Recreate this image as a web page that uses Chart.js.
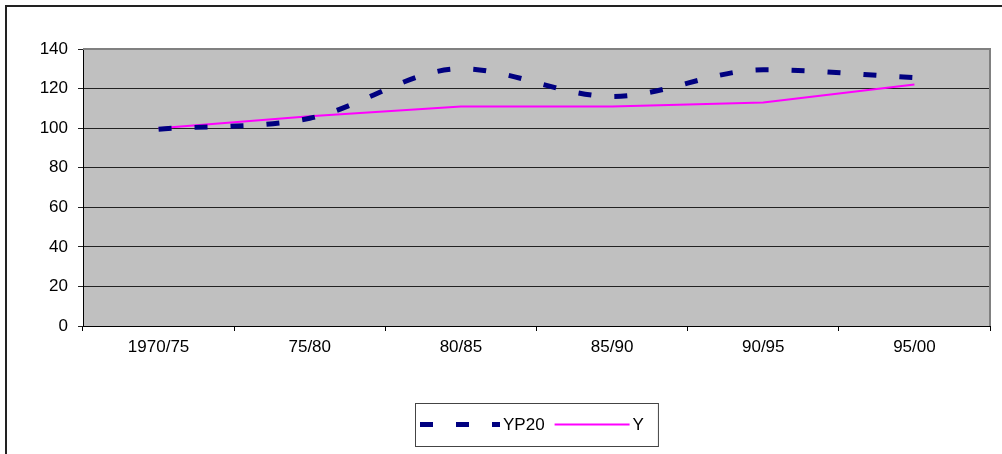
<!DOCTYPE html>
<html>
<head>
<meta charset="utf-8">
<script src="https://cdn.jsdelivr.net/npm/chart.js@4.4.1/dist/chart.umd.min.js"></script>
<style>
  html, body { margin: 0; padding: 0; background: #fff; }
  canvas { display: block; }
</style>
</head>
<body>
<canvas id="grafico" width="1002" height="454"></canvas>
<script>
// valores
const periodos = ["1970/75", "75/80", "80/85", "85/90", "90/95", "95/00"];
const serieYP20 = [99.5, 105, 130, 116, 129.5, 125.5];
const serieY = [100, 106, 111, 111, 113, 122];
const ticksY = [0, 20, 40, 60, 80, 100, 120, 140];

const FONTE = '"Liberation Sans", Arial, sans-serif';
const TAM = 17;

// fundo cinza da área do gráfico + moldura externa
const pluginFundo = {
    id: 'fundo',
    beforeDraw(chart) {
        const { ctx, chartArea: a } = chart;
        ctx.save();
        ctx.fillStyle = '#C0C0C0';
        ctx.fillRect(a.left, a.top, a.right - a.left, a.bottom - a.top);
        ctx.restore();
    },
    afterDraw(chart) {
        const { ctx, chartArea: a } = chart;
        ctx.save();
        // borda cinza em cima e à direita da área
        ctx.strokeStyle = '#808080';
        ctx.lineWidth = 2;
        ctx.beginPath();
        ctx.moveTo(a.left, a.top);
        ctx.lineTo(a.right, a.top);
        ctx.lineTo(a.right, a.bottom);
        ctx.stroke();
        // moldura externa (só esquerda e topo aparecem)
        ctx.strokeStyle = '#222';
        ctx.lineWidth = 2;
        ctx.beginPath();
        ctx.moveTo(6, chart.height);
        ctx.lineTo(6, 6);
        ctx.lineTo(chart.width, 6);
        ctx.stroke();
        ctx.restore();
    }
};

// legenda no estilo do Excel
const pluginLegenda = {
    id: 'legenda',
    afterDraw(chart) {
        const { ctx, chartArea: a } = chart;
        const sets = chart.data.datasets;
        ctx.save();
        ctx.font = TAM + 'px ' + FONTE;
        const amostra = [80, 75];
        let total = 0;
        sets.forEach((ds, i) => {
            total += amostra[i] + 3 + ctx.measureText(ds.label).width + (i < sets.length - 1 ? 10 : 0);
        });
        const padE = 5, padD = 14;
        const larg = total + padE + padD;
        const cx = (a.left + a.right) / 2;
        const x0 = Math.round(cx - larg / 2), y0 = 403, alt = 43;
        ctx.fillStyle = '#fff';
        ctx.fillRect(x0, y0, larg, alt);
        ctx.strokeStyle = '#444';
        ctx.lineWidth = 1;
        ctx.strokeRect(x0 + 0.5, y0 + 0.5, larg, alt);
        let x = x0 + padE;
        const ym = y0 + alt / 2;
        sets.forEach((ds, i) => {
            ctx.beginPath();
            ctx.setLineDash(ds.borderDash || []);
            ctx.lineDashOffset = 0;
            ctx.lineCap = 'butt';
            ctx.strokeStyle = ds.borderColor;
            ctx.lineWidth = ds.borderWidth;
            ctx.moveTo(x, ym);
            ctx.lineTo(x + amostra[i], ym);
            ctx.stroke();
            ctx.setLineDash([]);
            x += amostra[i] + 3;
            ctx.fillStyle = '#000';
            ctx.textBaseline = 'middle';
            ctx.fillText(ds.label, x, ym + 1);
            x += ctx.measureText(ds.label).width + 10;
        });
        ctx.restore();
    }
};

const ctx = document.getElementById('grafico').getContext('2d');
new Chart(ctx, {
    type: 'line',
    data: {
        labels: periodos,
        datasets: [
            {
                label: 'YP20',
                data: serieYP20,
                borderColor: '#000080',
                borderWidth: 5,
                borderDash: [13, 23],
                borderCapStyle: 'butt',
                cubicInterpolationMode: 'monotone',
                pointRadius: 0,
                fill: false
            },
            {
                label: 'Y',
                data: serieY,
                borderColor: '#FF00FF',
                borderWidth: 2,
                tension: 0,
                pointRadius: 0,
                fill: false
            }
        ]
    },
    options: {
        responsive: false,
        animation: false,
        layout: { padding: { top: 49, right: 12, left: 0, bottom: 0 } },
        plugins: { legend: { display: false }, tooltip: { enabled: false } },
        scales: {
            x: {
                offset: true,
                afterFit(scale) { scale.height = 128; },
                grid: { offset: true, drawOnChartArea: false, drawTicks: true, tickLength: 5, color: '#000' },
                border: { color: '#000', width: 1 },
                ticks: { color: '#000', font: { family: FONTE, size: TAM }, padding: 6, maxRotation: 0 }
            },
            y: {
                min: 0,
                max: 140,
                afterFit(scale) { scale.width = 83; },
                afterBuildTicks(scale) { scale.ticks = ticksY.map(v => ({ value: v })); },
                grid: { color: '#222', tickLength: 5, drawTicks: true },
                border: { color: '#000', width: 1 },
                ticks: { color: '#000', font: { family: FONTE, size: TAM }, padding: 10 }
            }
        }
    },
    plugins: [pluginFundo, pluginLegenda]
});
</script>
</body>
</html>
